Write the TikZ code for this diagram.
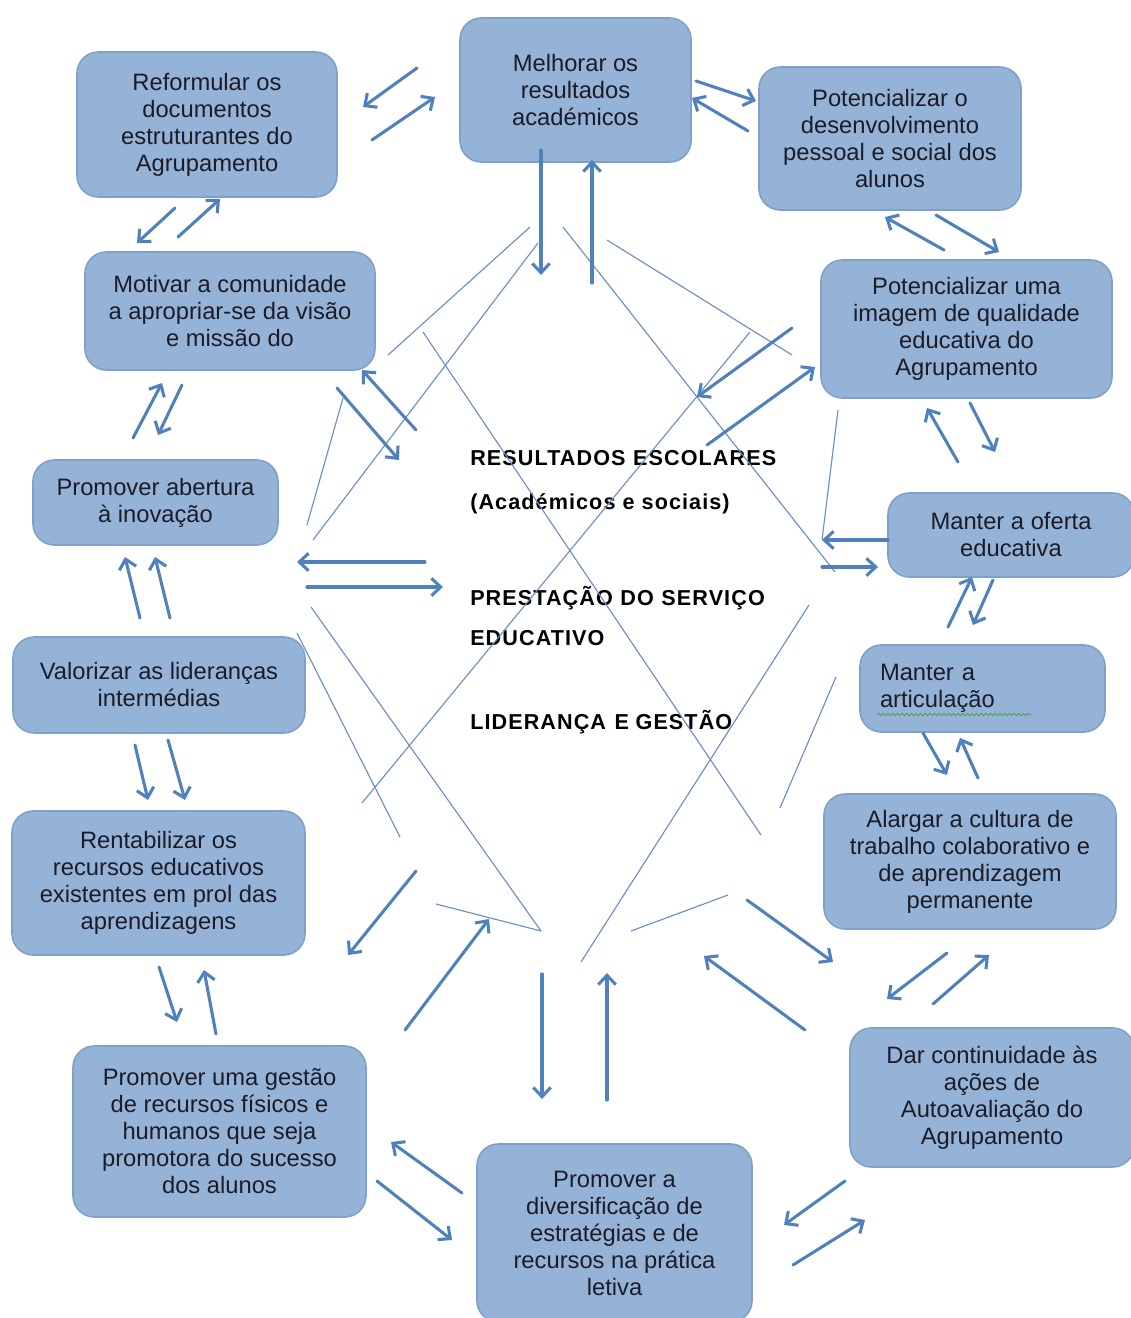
\documentclass[tikz,border=0pt]{standalone}
\usepackage{fontspec}
\setmainfont{Liberation Sans}
\usetikzlibrary{arrows.meta,decorations.pathmorphing}
\definecolor{boxfill}{RGB}{149,179,215}
\definecolor{boxedge}{RGB}{128,160,204}
\definecolor{flow}{RGB}{79,129,189}
\definecolor{guidecol}{RGB}{108,142,194}
\definecolor{ink}{RGB}{28,28,40}
\definecolor{spell}{RGB}{70,160,70}
\begin{document}
\begin{tikzpicture}[x=0.75pt,y=-0.75pt,
  box/.style={draw=boxedge, line width=1.2pt, fill=boxfill, rounded corners=16pt,
    align=center, inner sep=0pt, text=ink,
    font=\fontsize{17.8pt}{20.25pt}\selectfont},
  sz/.style 2 args={minimum width={#1*0.75pt}, minimum height={#2*0.75pt}},
  arr/.style={draw=flow, line width=2.3pt, line cap=round,
    -{Straight Barb[length=7pt,width=13pt]}},
  guide/.style={draw=guidecol, line width=0.85pt},
  theme/.style={anchor=base west, inner sep=0pt, text=black,
    font=\fontsize{16.2pt}{18pt}\selectfont\bfseries\addfontfeature{LetterSpace=5}}]

\useasboundingbox (0,0) rectangle (1131,1318);
\clip (0,0) rectangle (1131,1318);
\fill[white] (0,0) rectangle (1131,1318);

% goal boxes around the ring
\node[box, sz={260}{145}] (reform) at (207,124.5) {Reformular os\\documentos\\estruturantes do\\Agrupamento};
\node[box, sz={231}{144}] (melh) at (575.5,90) {Melhorar os\\resultados\\académicos};
\node[box, sz={262}{143}] (potdes) at (890,138.5) {Potencializar o\\desenvolvimento\\pessoal e social dos\\alunos};
\node[box, sz={290}{118}] (motiv) at (230,311) {Motivar a comunidade\\a apropriar-se da visão\\e missão do};
\node[box, sz={291}{138}] (potimg) at (966.5,329) {Potencializar uma\\imagem de qualidade\\educativa do\\Agrupamento};
\node[box, sz={245}{85}] (abert) at (155.5,502.5) {Promover abertura\\à inovação};
\node[box, sz={246}{84}] (oferta) at (1011,535) {Manter a oferta\\educativa};
\node[box, sz={292}{96}] (valor) at (159,685) {Valorizar as lideranças\\intermédias};
\node[box, sz={245}{87}, align=left, text width={205*0.75pt}] (artic) at (982.5,688.5) {Manter a\\articulação};
\node[box, sz={292}{135}] (alarg) at (970,861.5) {Alargar a cultura de\\trabalho colaborativo e\\de aprendizagem\\permanente};
\node[box, sz={293}{144}] (rentab) at (158.5,883) {Rentabilizar os\\recursos educativos\\existentes em prol das\\aprendizagens};
\node[box, sz={293}{171}] (gestao) at (219.5,1131.5) {Promover uma gestão\\de recursos físicos e\\humanos que seja\\promotora do sucesso\\dos alunos};
\node[box, sz={284}{139}] (dar) at (992,1097.5) {Dar continuidade às\\ações de\\Autoavaliação do\\Agrupamento};
\node[box, sz={275}{178}] (divers) at (614.5,1233) {Promover a\\diversificação de\\estratégias e de\\recursos na prática\\letiva};

% spell-check squiggle under "articulação"
\draw[spell, line width=0.6pt, decorate, decoration={snake, amplitude=0.9pt, segment length=3.5pt}]
  ([shift={(18,26)}]artic.west) -- ++(154,0);

% central themes
\node[theme] (resul) at (470,465.5) {RESULTADOS\hspace{0.35em}ESCOLARES};
\node[theme] (acad) at (470,509) {(Académicos e sociais)};
\node[theme] (prest) at (470,605.5) {PRESTAÇÃO\hspace{0.35em}DO\hspace{0.35em}SERVIÇO};
\node[theme] (educ) at (470,645.5) {EDUCATIVO};
\node[theme] (lider) at (470,729.5) {LIDERANÇA\hspace{0.4em}E\hspace{0.3em}GESTÃO};

% thin guide lines crossing the centre
\foreach \s/\e [count=\i] in {
  {530,227}/{388,355}, {538,243}/{313,540}, {563,227}/{835,572},
  {607,240}/{792,355}, {423,332}/{761,835}, {750,332}/{362,803},
  {809,605}/{581,962}, {836,677}/{780,808}, {728,895}/{631,931},
  {311,607}/{541,931}, {436,904}/{541,931}, {297,633}/{400,837},
  {343,398}/{307,525}, {838,410}/{822,540}}
  \draw[guide] (\s) coordinate (g\i a) -- (\e) coordinate (g\i b);

% flow arrows between goals and towards the centre
\foreach \s/\e [count=\i] in {
  {417,68}/{363,107}, {372,140}/{435,97},
  {696,81}/{756,101}, {748,131}/{692,98},
  {541,150}/{541,275}, {592,283}/{592,160},
  {175,208}/{137,243}, {178,237}/{220,199},
  {944,250}/{885,217}, {936,215}/{999,252},
  {133,438}/{162,383}, {182,385}/{158,435},
  {416,430}/{362,370}, {337,388}/{399,460},
  {792,328}/{697,397}, {707,445}/{815,367},
  {958,462}/{927,408}, {970,403}/{995,452},
  {425,562}/{297,562}, {307,587}/{443,587},
  {888,540}/{822,540}, {822,567}/{878,567},
  {140,618}/{125,557}, {170,618}/{155,557},
  {948,627}/{972,577}, {993,580}/{973,625},
  {135,745}/{148,800}, {168,740}/{185,800},
  {923,733}/{947,775}, {978,778}/{960,738},
  {416,871}/{348,955}, {405,1030}/{489,919},
  {542,974}/{542,1099}, {607,1100}/{607,973},
  {747,900}/{833,962}, {805,1030}/{704,956},
  {947,953}/{887,999}, {933,1004}/{989,955},
  {159,967}/{177,1022}, {216,1034}/{204,970},
  {462,1193}/{391,1142}, {377,1181}/{452,1240},
  {845,1181}/{784,1225}, {793,1265}/{865,1220}}
  \draw[arr] (\s) coordinate (f\i a) -- (\e) coordinate (f\i b);
\end{tikzpicture}
\end{document}
